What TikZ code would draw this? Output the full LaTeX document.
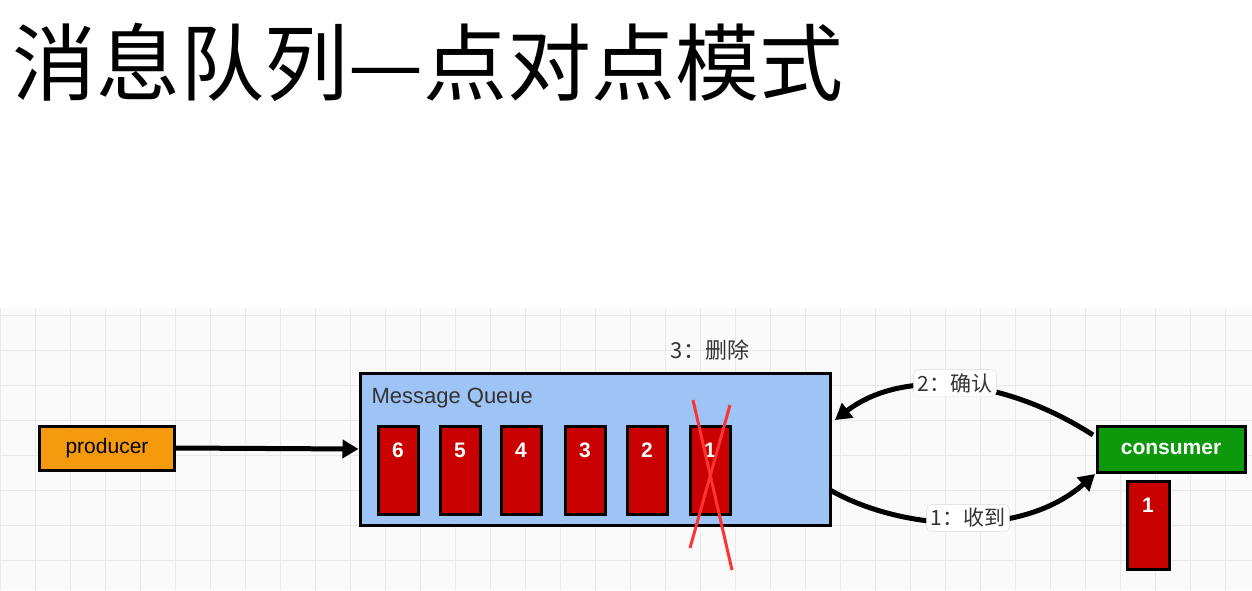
\documentclass[tikz,border=0pt]{standalone}
\usepackage{fontspec}
\setmainfont{Liberation Sans}
\newfontfamily\cjk{Noto Sans CJK SC}
\usetikzlibrary{arrows.meta}
\definecolor{mqblue}{HTML}{9EC3F5}
\definecolor{msgred}{HTML}{C80000}
\definecolor{prodor}{HTML}{F59A0C}
\definecolor{consgr}{HTML}{0C9A0C}
\begin{document}
\begin{tikzpicture}[x=1pt,y=-1pt,
  msg/.style={draw=black,line width=3pt,fill=msgred,minimum width=40pt,minimum height=88pt,inner sep=0pt},
  num/.style={text=white,font=\bfseries\fontsize{21}{22}\selectfont},
  lbl/.style={fill=white,draw=gray!30,rounded corners=5pt,inner sep=4pt,font=\cjk\fontsize{21}{22}\selectfont,text=black!80},
  conn/.style={line width=5pt,-{Triangle[length=16pt,width=18pt]}}]
\useasboundingbox (0,0) rectangle (1252,590);
\fill[white] (0,0) rectangle (1252,590);
\fill[gray!4] (0,308) rectangle (1252,590);
\draw[gray!18,line width=0.8pt] (0,308) grid[step=35pt] (1252,590);
\node[anchor=west,font=\cjk\fontsize{84}{90}\selectfont,inner sep=0pt] (title) at (12,62) {消息队列—点对点模式};
\node[draw,line width=3pt,fill=prodor,minimum width=135pt,minimum height=44pt,inner sep=0pt,font=\fontsize{21}{22}\selectfont] (prod) at (107,448) {producer};
\node[draw,line width=3pt,fill=mqblue,minimum width=470pt,minimum height=152pt,inner sep=0pt] (mq) at (595,449) {};
\node[anchor=west,font=\fontsize{22}{24}\selectfont,text=black!80] (mqt) at (368,398) {Message Queue};
\foreach \i/\x in {6/398,5/460,4/521,3/585,2/647,1/710}{
  \node[msg] (m\i) at (\x,470) {};
  \node[num] (n\i) at (\x,450) {\i};
}
\coordinate (xa) at (693,400); \coordinate (xb) at (732,570);
\coordinate (xc) at (730,405); \coordinate (xd) at (690,548);
\draw[red!80,line width=3pt] (xa) -- (xb);
\draw[red!80,line width=3pt] (xc) -- (xd);
\node[font=\cjk\fontsize{22}{24}\selectfont,text=black!80] (del) at (710,350) {3：删除};
\node[draw,line width=3pt,fill=consgr,text=white,minimum width=148pt,minimum height=46pt,inner sep=0pt,font=\bfseries\fontsize{21}{22}\selectfont] (cons) at (1171,449) {consumer};
\node[msg,minimum width=42pt] (cm) at (1148,525) {};
\node[num] (cn) at (1148,505) {1};
\draw[conn] (prod.east) -- (mq.west);
\coordinate (c2s) at (1093,435); \coordinate (c2e) at (835,420);
\coordinate (c1s) at (830,490); \coordinate (c1e) at (1095,474);
\draw[conn] (c2s) .. controls (1000,375) and (900,370) .. (c2e);
\draw[conn] (c1s) .. controls (900,530) and (1020,540) .. (c1e);
\node[lbl] (l2) at (955,383) {2：确认};
\node[lbl] (l1) at (968,518) {1：收到};
\end{tikzpicture}
\end{document}
